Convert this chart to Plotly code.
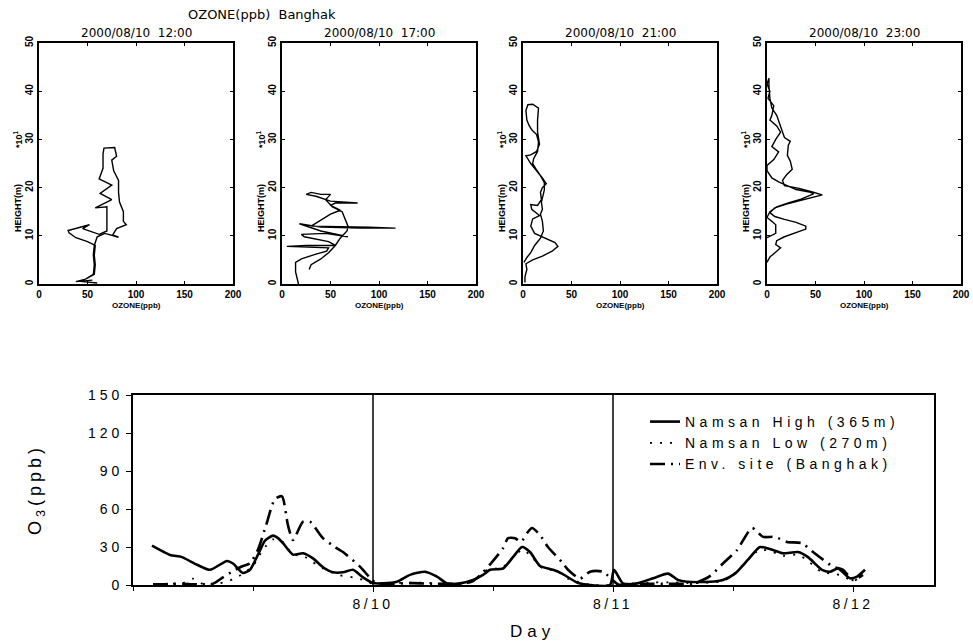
import plotly.graph_objects as go

# ---------------- data: vertical ozone profiles (ozone ppb, height *10 m) ----------------
profile_titles = ["2000/08/10\u00a0 12:00", "2000/08/10\u00a0 17:00",
                  "2000/08/10\u00a0 21:00", "2000/08/10\u00a0 23:00"]

profile_1200 = [(60, 0.2), (40, 0.6), (48, 1.0), (57, 2.0), (58, 4.0), (57, 6.0), (58, 8.0),
                (50, 8.8), (38, 9.6), (31, 10.6), (30, 11.1), (42, 11.8), (52, 12.3), (45, 11.5),
                (62, 10.3), (70, 11.0), (70, 12.0), (70, 16.0), (58, 15.8), (75, 17.5), (63, 18.8),
                (75, 20.5), (62, 21.8), (66, 24.0), (66, 27.0), (67, 28.2), (78, 28.3), (80, 26.5),
                (75, 25.7), (77, 23.5), (82, 21.5), (82, 19.0), (83, 17.0), (87, 15.0), (87, 13.0),
                (90, 12.3), (80, 11.5), (76, 10.2), (82, 9.7), (68, 10.5), (60, 9.8), (57, 8.0),
                (56, 6.0), (57, 4.0), (56, 2.0), (48, 1.0), (38, 0.5), (55, 0.8)]

profile_1700 = [(17, 0.0), (16, 1.0), (14, 2.5), (14, 4.5), (20, 5.2), (35, 6.2), (46, 6.8),
                (48, 7.5), (30, 7.6), (5, 7.8), (25, 8.0), (55, 8.0), (48, 8.8), (23, 9.8),
                (20, 10.3), (45, 10.5), (68, 9.8), (40, 11.0), (18, 12.5), (40, 11.8), (80, 11.6),
                (117, 11.6), (90, 11.8), (55, 11.9), (30, 12.0), (38, 13.0), (50, 14.5), (60, 15.3),
                (50, 16.3), (55, 16.8), (78, 16.8), (50, 17.2), (35, 18.2), (25, 18.6), (30, 19.0),
                (40, 18.6), (50, 18.6), (45, 17.5), (52, 16.0), (62, 15.0), (65, 13.5), (68, 12.0),
                (67, 11.0), (60, 9.5), (55, 8.0), (48, 6.5), (40, 5.2), (30, 4.0), (28, 3.0)]

profile_2100 = [(2, 0.3), (2, 1.5), (4, 3.0), (3, 4.2), (10, 5.0), (20, 5.8), (30, 6.8), (36, 7.8),
                (33, 8.6), (25, 9.3), (18, 10.0), (12, 10.5), (8, 12.0), (10, 13.5), (17, 14.2),
                (9, 15.5), (8, 16.5), (15, 16.3), (19, 17.5), (18, 19.0), (20, 20.0), (24, 20.8),
                (20, 22.0), (14, 23.5), (8, 25.0), (3, 26.6), (8, 26.8), (14, 27.5), (17, 29.0),
                (15, 31.5), (15, 34.0), (16, 36.5), (10, 37.3), (5, 37.2), (3, 36.0), (4, 34.0),
                (6, 33.0), (9, 32.0), (14, 31.0), (16, 29.5), (15, 27.5), (11, 26.0), (10, 25.0),
                (13, 24.0), (18, 22.5), (22, 21.0), (22, 19.5), (19, 17.0), (20, 15.5), (18, 14.5),
                (20, 13.0), (21, 11.0), (18, 9.5), (12, 8.0), (8, 6.5), (4, 5.5), (1, 4.5)]

profile_2300 = [(0, 4.5), (3, 5.6), (10, 6.8), (14, 7.5), (9, 8.2), (10, 9.0), (18, 9.8), (30, 10.6),
                (40, 11.4), (40, 12.0), (30, 12.8), (18, 13.4), (8, 14.0), (3, 14.8), (8, 15.8),
                (20, 16.6), (35, 17.4), (50, 18.2), (57, 18.5), (45, 19.2), (32, 19.9), (18, 20.4),
                (16, 21.5), (20, 22.6), (26, 23.8), (24, 25.5), (21, 26.7), (22, 28.8), (24, 29.6),
                (18, 30.4), (14, 32.5), (10, 35.0), (5, 36.5), (3, 38.5), (2, 41.0), (2, 42.7),
                (0, 41.5), (3, 40.0), (1, 38.5), (7, 37.0), (5, 35.0), (3, 34.0), (10, 32.8),
                (14, 31.5), (9, 30.0), (5, 28.5), (12, 27.4), (7, 25.8), (0, 24.6), (0, 23.5),
                (5, 22.0), (12, 21.2), (30, 19.6), (45, 19.0), (48, 18.7), (35, 17.6), (22, 16.8),
                (10, 16.0), (3, 15.0), (0, 13.8), (5, 13.0), (9, 12.3), (9, 10.5), (3, 10.0), (0, 9.6)]

profiles = [profile_1200, profile_1700, profile_2100, profile_2300]
profile_xticks = [0, 50, 100, 150, 200]
profile_yticks = [0, 10, 20, 30, 40, 50]

# ---------------- data: surface ozone time series (hours from 8/9 00:00, ppb) ----------------
high_hours = [1.9, 3.7, 4.9, 6.4, 7.7, 9.4, 10.0, 11.0, 11.7, 12.5, 13.2, 14.0, 14.5, 15.0, 16.0,
              17.0, 18.0, 19.0, 20.0, 21.0, 22.0, 23.0, 24.0,
              25.0, 26.4, 27.7, 29.2, 30.4, 31.4, 32.7, 34.0, 35.0, 35.7, 37.0, 38.0, 38.9, 39.7,
              40.7, 42.0, 42.9, 44.4, 45.7, 47.7,
              48.1, 49.0, 50.4, 52.0, 53.5, 54.5, 55.4, 57.7, 59.0, 60.2, 61.5, 62.7, 64.0, 65.0,
              66.5, 67.5, 68.9, 69.7, 70.5, 71.7, 72.4, 73.2]
high_o3 = [31, 23.7, 22, 16, 12, 19, 17, 9.5, 12, 24, 35, 39, 37, 33, 24,
           25, 21, 14, 10, 10, 12, 6, 1.5,
           1.3, 2.6, 8, 10.5, 6.6, 1.3, 1.3, 4, 8, 12, 13, 22, 30, 26,
           15, 12, 9, 2, 0, 0,
           12, 1.3, 1.3, 5.3, 9, 4, 2.6, 2.6, 4, 9, 20, 30, 27.6, 25,
           26, 22, 12, 10.5, 13, 5.3, 6.6, 12]

low_hours = [2, 3, 4, 5, 6, 7, 8, 9, 10, 11, 12, 13, 14, 15, 16, 17, 18, 19, 20.5, 22, 23, 24,
             25, 26, 28, 30, 31.5, 33, 34, 35.4, 36.2, 37, 38, 39, 40, 41, 42.4, 43.5, 44.7, 46, 47.7,
             48.5, 50, 52, 54, 56, 58, 59, 60, 61.5, 62.7, 64, 65, 66.5, 67.5, 68.9, 70, 71, 72, 73]
low_o3 = [0.5, 0.8, 1, 1.5, 5, 0.8, 0.5, 2, 4.5, 9, 15, 28, 36, 34, 24, 23, 18, 13, 8, 6, 4, 1,
          1, 1.5, 2, 1.5, 0.5, 1, 3, 12, 13, 14, 22, 28, 21, 13, 11, 5, 2, 0, 0,
          1, 1, 2, 2, 1.5, 2, 3, 8, 20, 28, 26, 23, 24, 19, 10, 9, 7, 3, 8]

env_hours = [2, 3, 4, 5, 6, 7, 8, 9, 10, 11, 11.7, 12.5, 13.3, 14.2, 14.9, 15.5, 16.0, 17.0, 17.7,
             19.0, 20.2, 21.0, 22.7, 23.9,
             24.5, 26, 28, 30, 32, 33, 34, 35, 35.9, 37, 37.5, 38.2, 38.8, 39.4, 39.9, 40.7, 41.5,
             42.9, 43.5, 44.7, 45.7, 47.0,
             48.5, 50, 52, 54, 56, 57.7, 59, 60.4, 61.9, 63.0, 64.2, 65.4, 66.9, 68.0, 69.0, 70.0,
             71.0, 72.0, 73.0]
env_o3 = [0.5, 0.5, 1, 1, 0.5, 0.5, 1, 6, 11, 15, 17, 28, 47, 68, 70, 47, 35.5, 50, 50,
          37, 30, 26, 14.5, 4,
          1, 1, 1.5, 1, 1, 1, 3, 10, 18, 29, 37, 37, 34, 41, 45, 39.5, 30,
          18, 12, 5, 10.5, 10.5,
          0.5, 1, 1, 1, 1, 7, 17, 27.6, 45, 38, 38, 34, 33, 26, 20, 14.5,
          12, 4, 8]

series_names = ["Namsan High (365m)", "Namsan Low (270m)", "Env. site (Banghak)"]
day_tick_hours = [24, 48, 72]
day_tick_text = ["8/10", "8/11", "8/12"]
day_boundaries = [24, 48]
o3_ticks = [0, 30, 60, 90, 120, 150]

# ---------------- figure ----------------
W, H = 973, 644
fig = go.Figure()


def px_x(v):
    return v / W


def px_y(v):
    return 1 - v / H


def spaced(text, sp):
    return f'<span style="letter-spacing:{sp}px">{text}</span>'


panel_left = [39, 282, 523, 767]
panel_w = 194
p_top, p_bot = 43, 284

bold_sans = "Liberation Sans, Arial, sans-serif"
small_font = dict(family=bold_sans, size=10, color="black", weight="bold")
annotations = []

for i, prof in enumerate(profiles):
    n = i + 1
    xs = [p[0] for p in prof]
    ys = [p[1] for p in prof]
    fig.add_trace(go.Scatter(x=xs, y=ys, mode="lines", xaxis=f"x{n}", yaxis=f"y{n}",
                             line=dict(color="black", width=1.4), showlegend=False,
                             hoverinfo="skip"))
    x0, x1 = px_x(panel_left[i]), px_x(panel_left[i] + panel_w)
    common = dict(showline=True, linecolor="black", linewidth=1.6, mirror="ticks",
                  ticks="inside", ticklen=3, tickcolor="black", showgrid=False, zeroline=False,
                  tickfont=small_font, automargin=False)
    fig.update_layout(**{
        f"xaxis{n}": dict(domain=[x0, x1], range=[0, 200], tickvals=profile_xticks,
                          anchor=f"y{n}", **common),
        f"yaxis{n}": dict(domain=[px_y(p_bot), px_y(p_top)], range=[0, 50],
                          tickvals=profile_yticks, tickangle=-90, anchor=f"x{n}", **common),
    })
    cx = (panel_left[i] + panel_w / 2) / W
    annotations.append(dict(text=profile_titles[i], x=cx, y=px_y(33), xref="paper", yref="paper",
                            showarrow=False, xanchor="center", yanchor="middle",
                            font=dict(family="DejaVu Sans, sans-serif", size=12, color="black")))
    annotations.append(dict(text="OZONE(ppb)", x=cx, y=px_y(306), xref="paper", yref="paper",
                            showarrow=False, xanchor="center", yanchor="middle",
                            font=dict(family=bold_sans, size=8, color="black", weight="bold")))
    annotations.append(dict(text="HEIGHT(m)", x=px_x(panel_left[i] - 21), y=px_y(208),
                            xref="paper", yref="paper", showarrow=False, textangle=-90,
                            xanchor="center", yanchor="middle",
                            font=dict(family=bold_sans, size=9, color="black", weight="bold")))
    annotations.append(dict(text="*10<sup>1</sup>", x=px_x(panel_left[i] - 21), y=px_y(139),
                            xref="paper", yref="paper", showarrow=False, textangle=-90,
                            xanchor="center", yanchor="middle",
                            font=dict(family=bold_sans, size=9, color="black", weight="bold")))

annotations.append(dict(text="OZONE(ppb)\u00a0 Banghak", x=px_x(262), y=px_y(15), xref="paper",
                        yref="paper", showarrow=False, xanchor="center", yanchor="middle",
                        font=dict(family="DejaVu Sans, sans-serif", size=13, color="black")))

# bottom time series
fig.add_trace(go.Scatter(x=high_hours, y=high_o3, mode="lines", name=spaced(series_names[0], 4.5),
                         xaxis="x5", yaxis="y5", line=dict(color="black", width=2.6,
                                                            shape="spline", smoothing=0.6)))
fig.add_trace(go.Scatter(x=low_hours, y=low_o3, mode="lines", name=spaced(series_names[1], 4.5),
                         xaxis="x5", yaxis="y5", line=dict(color="black", width=1.8, dash="2px,8px",
                                                            shape="spline", smoothing=0.6)))
fig.add_trace(go.Scatter(x=env_hours, y=env_o3, mode="lines", name=spaced(series_names[2], 4.5),
                         xaxis="x5", yaxis="y5",
                         line=dict(color="black", width=2.6, dash="15px,6px,2px,6px",
                                   shape="spline", smoothing=0.6)))

b_left, b_right, b_top, b_bot = 133, 934, 395, 585
big_font = dict(family=bold_sans, size=14, color="black")
fig.update_layout(
    xaxis5=dict(domain=[px_x(b_left), px_x(b_right)], range=[0, (b_right - b_left) / 10],
                tickvals=day_tick_hours, ticktext=[spaced(t, 3.5) for t in day_tick_text],
                ticks="outside", ticklen=5, tickcolor="black",
                minor=dict(dtick=12, tick0=0, ticks="outside", ticklen=4, tickcolor="black"),
                showline=True, linecolor="black", linewidth=1.6, mirror=True,
                showgrid=False, zeroline=False, tickfont=big_font, anchor="y5", automargin=False),
    yaxis5=dict(domain=[px_y(b_bot), px_y(b_top)], range=[0, 150], tickvals=o3_ticks,
                ticktext=[spaced(str(t), 4) for t in o3_ticks],
                ticks="outside", ticklen=5, tickcolor="black", showline=True, linecolor="black",
                linewidth=1.6, mirror=True, showgrid=False, zeroline=False, tickfont=big_font,
                anchor="x5", automargin=False),
)
for h in day_boundaries:
    fig.add_shape(type="line", xref="x5", yref="y5 domain", x0=h, x1=h, y0=0, y1=1,
                  line=dict(color="black", width=1.5))

annotations.append(dict(text=spaced("O<sub>3</sub>(ppb)", 4), x=px_x(36), y=px_y(490),
                        xref="paper", yref="paper", showarrow=False, textangle=-90,
                        xanchor="center", yanchor="middle",
                        font=dict(family=bold_sans, size=18, color="black")))
annotations.append(dict(text=spaced("Day", 5), x=px_x(532), y=px_y(631), xref="paper",
                        yref="paper", showarrow=False, xanchor="center", yanchor="middle",
                        font=dict(family=bold_sans, size=17, color="black")))

fig.update_layout(
    width=W, height=H, margin=dict(l=0, r=0, t=0, b=0, autoexpand=False),
    paper_bgcolor="white", plot_bgcolor="white",
    annotations=annotations,
    showlegend=True,
    legend=dict(x=px_x(645), y=px_y(406), xanchor="left", yanchor="top",
                bgcolor="rgba(0,0,0,0)", borderwidth=0, tracegroupgap=0,
                font=dict(family=bold_sans, size=14, color="black")),
)

fig.write_html("out.html", config={"displayModeBar": False},
               post_script="document.body.style.margin='0';document.body.style.overflow='hidden';")
